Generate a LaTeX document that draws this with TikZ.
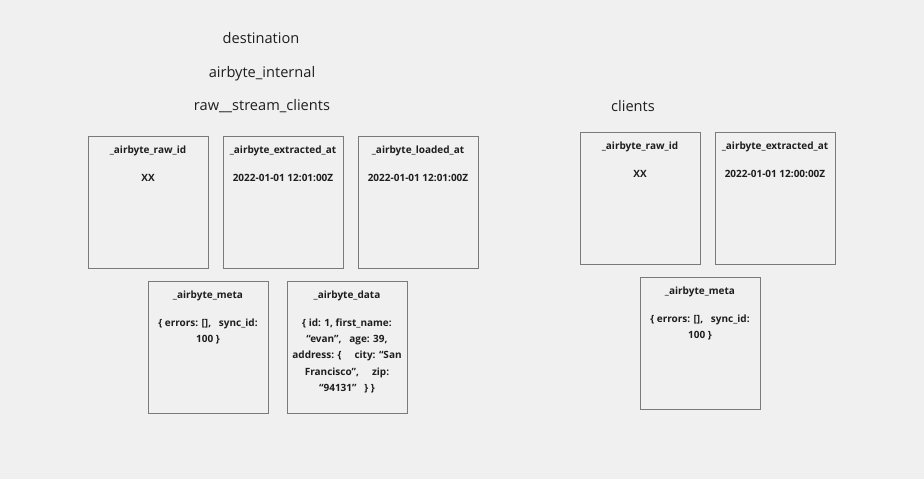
\documentclass[tikz,border=0pt]{standalone}
\usepackage{fontspec}
\setmainfont{Open Sans}
\definecolor{bg}{HTML}{F0F0F0}
\definecolor{bord}{HTML}{7A7A7A}
\definecolor{txt}{HTML}{1E1E1E}
\begin{document}
\begin{tikzpicture}[x=1pt,y=-1pt,
  col/.style={draw=bord,line width=0.9pt,fill=bg,minimum width=120pt,minimum height=132pt,anchor=north west,inner sep=0pt},
  hdr/.style={font=\fontsize{10}{12}\selectfont\bfseries,text=txt,anchor=center,align=center,yshift=-1.5pt},
  val/.style={font=\fontsize{10}{16.3}\selectfont\bfseries,text=txt,anchor=north,align=center},
  ttl/.style={font=\fontsize{14.6}{17}\selectfont,text=txt,anchor=center,yshift=-1.5pt}]
\fill[bg] (0,0) rectangle (924,479);
\useasboundingbox (0,0) rectangle (924,479);
\node[ttl] (tdest) at (261,37) {destination};
\node[ttl] (tint) at (262,72) {airbyte\_internal};
\node[ttl] (traw) at (262,105) {raw\_\_stream\_clients};
\node[ttl] (tcli) at (633,105) {clients};
% left
\node[col] (b1) at (88,136) {};
\node[col] (b2) at (223,136) {};
\node[col] (b3) at (358,136) {};
\node[col] (b4) at (148,281) {};
\node[col] (b5) at (287,281) {};
\node[hdr] (h1) at (148,149) {\_airbyte\_raw\_id};
\node[hdr] (h2) at (283,149) {\_airbyte\_extracted\_at};
\node[hdr] (h3) at (418,149) {\_airbyte\_loaded\_at};
\node[hdr] (v1) at (148,176) {XX};
\node[hdr] (v2) at (283,176) {2022-01-01 12:01:00Z};
\node[hdr] (v3) at (418,176) {2022-01-01 12:01:00Z};
\node[hdr] (h4) at (208,294) {\_airbyte\_meta};
\node[hdr] (h5) at (347,294) {\_airbyte\_data};
\node[val] (v4) at (208,315) {\{ errors: [],\ \ \ sync\_id:\\100 \}};
\node[val] (v5) at (347,315) {\{ id: 1, first\_name:\\“evan”,\ \ \ age: 39,\\address: \{\ \ \ \ \ city: “San\\Francisco”,\ \ \ \ \ zip:\\“94131”\ \ \ \} \}};
% right
\node[col] (r1) at (580,132) {};
\node[col] (r2) at (715,132) {};
\node[col] (r3) at (640,277) {};
\node[hdr] (rh1) at (640,145) {\_airbyte\_raw\_id};
\node[hdr] (rh2) at (775,145) {\_airbyte\_extracted\_at};
\node[hdr] (rv1) at (640,172) {XX};
\node[hdr] (rv2) at (775,172) {2022-01-01 12:00:00Z};
\node[hdr] (rh3) at (700,290) {\_airbyte\_meta};
\node[val] (rv3) at (700,311) {\{ errors: [],\ \ \ sync\_id:\\100 \}};
\end{tikzpicture}
\end{document}
